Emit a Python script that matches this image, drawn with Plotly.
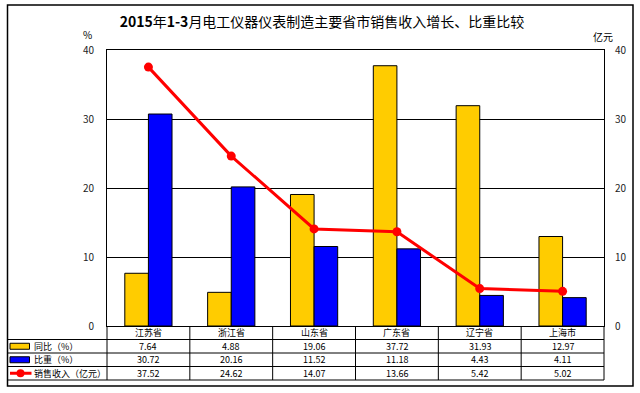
import plotly.graph_objects as go

categories = ["江苏省", "浙江省", "山东省", "广东省", "辽宁省", "上海市"]
yoy = [7.64, 4.88, 19.06, 37.72, 31.93, 12.97]
share = [30.72, 20.16, 11.52, 11.18, 4.43, 4.11]
revenue = [37.52, 24.62, 14.07, 13.66, 5.42, 5.02]
series_names = ["同比（%）", "比重（%）", "销售收入（亿元）"]
tick_vals = [0, 10, 20, 30, 40]

FONT = "Noto Sans CJK SC"
W, H = 640, 393
ML, MR, MT, MB = 107, 36, 50, 67
PW = W - ML - MR
PH = H - MT - MB

def px_x(p):
    return (p - ML) / PW

def px_y(p):
    return (H - MB - p) / PH

fig = go.Figure()
fig.add_trace(go.Bar(x=categories, y=yoy, name=series_names[0],
                     marker=dict(color="#FFCC00", line=dict(color="black", width=1))))
fig.add_trace(go.Bar(x=categories, y=share, name=series_names[1],
                     marker=dict(color="#0000FF", line=dict(color="black", width=1))))
fig.add_trace(go.Scatter(x=categories, y=revenue, name=series_names[2], yaxis="y2",
                         mode="lines+markers",
                         line=dict(color="#FF0000", width=3),
                         marker=dict(color="#FF0000", size=9)))

row_h = 13.5 / PH
shapes = []
annotations = []
tfont = dict(family=FONT, size=9, color="black")

for i, c in enumerate(categories):
    annotations.append(dict(x=c, y=-row_h / 2, xref="x", yref="paper", text=c,
                            xanchor="center", yanchor="middle",
                            showarrow=False, font=tfont))
data_rows = [yoy, share, revenue]
for r, vals in enumerate(data_rows):
    yc = -row_h * (r + 1.5)
    for i, v in enumerate(vals):
        annotations.append(dict(x=categories[i], y=yc, xref="x", yref="paper",
                                text=f"{v:.2f}", showarrow=False,
                                xanchor="center", yanchor="middle", font=tfont))
    annotations.append(dict(x=px_x(32), y=yc, xref="paper", yref="paper",
                            text=series_names[r], showarrow=False,
                            xanchor="left", yanchor="middle", font=tfont))

tbl_left = px_x(7.5)
line = dict(color="black", width=1)
for k in range(1, 5):
    shapes.append(dict(type="line", xref="paper", yref="paper",
                       x0=tbl_left, x1=1, y0=-row_h * k, y1=-row_h * k, line=line))
for k in range(7):
    shapes.append(dict(type="line", xref="paper", yref="paper",
                       x0=k / 6, x1=k / 6, y0=0, y1=-row_h * 4, line=line))
shapes.append(dict(type="line", xref="paper", yref="paper",
                   x0=tbl_left, x1=tbl_left, y0=-row_h, y1=-row_h * 4, line=line))
shapes.append(dict(type="rect", xref="paper", yref="paper",
                   x0=tbl_left, x1=px_x(633), y0=px_y(386), y1=px_y(5),
                   line=dict(color="black", width=1.5)))

sx0, sx1 = px_x(10), px_x(29.5)
for r, col in enumerate(["#FFCC00", "#0000FF"]):
    yc = -row_h * (r + 1.5)
    shapes.append(dict(type="rect", xref="paper", yref="paper",
                       x0=sx0, x1=sx1, y0=yc - 3 / PH, y1=yc + 3 / PH,
                       fillcolor=col, line=dict(color="black", width=1)))
yc = -row_h * 3.5
shapes.append(dict(type="line", xref="paper", yref="paper",
                   x0=px_x(10), x1=px_x(31.5), y0=yc, y1=yc,
                   line=dict(color="#FF0000", width=3)))
shapes.append(dict(type="circle", xref="paper", yref="paper",
                   x0=px_x(16.5), x1=px_x(24.5), y0=yc - 4 / PH, y1=yc + 4 / PH,
                   fillcolor="#FF0000", line=dict(color="#FF0000", width=0)))

annotations.append(dict(x=px_x(87), y=px_y(35), xref="paper", yref="paper", text="%",
                        xanchor="center", yanchor="middle",
                        showarrow=False, font=dict(family=FONT, size=10, color="black")))
annotations.append(dict(x=px_x(603), y=px_y(36), xref="paper", yref="paper", text="亿元",
                        xanchor="center", yanchor="middle",
                        showarrow=False, font=dict(family=FONT, size=10, color="black")))

axis_common = dict(range=[0, 40], tickvals=tick_vals, ticks="", ticklabelstandoff=10,
                   tickfont=dict(family=FONT, size=10, color="#222"),
                   zeroline=False)

fig.update_layout(
    width=W, height=H,
    margin=dict(l=ML, r=MR, t=MT, b=MB),
    paper_bgcolor="white", plot_bgcolor="white",
    title=dict(text="<b>2015</b>年<b>1-3</b>月电工仪器仪表制造主要省市销售收入增长、比重比较",
               x=322 / W, xanchor="center", y=1 - 22 / H, yanchor="middle",
               font=dict(family=FONT, size=14, color="black")),
    showlegend=False,
    barmode="group", bargap=0.43, bargroupgap=0,
    xaxis=dict(showticklabels=False, showline=True, linecolor="black", linewidth=1,
               mirror=True, ticks="", range=[-0.5, 5.5]),
    yaxis=dict(showgrid=True, gridcolor="black", gridwidth=1, showline=True,
               linecolor="black", linewidth=1, mirror=True, **axis_common),
    yaxis2=dict(overlaying="y", side="right", showgrid=False, showline=False, **axis_common),
    shapes=shapes, annotations=annotations,
)

fig.write_html("out.html", config={"displayModeBar": False},
               post_script="document.body.style.margin='0';document.body.style.overflow='hidden';")
